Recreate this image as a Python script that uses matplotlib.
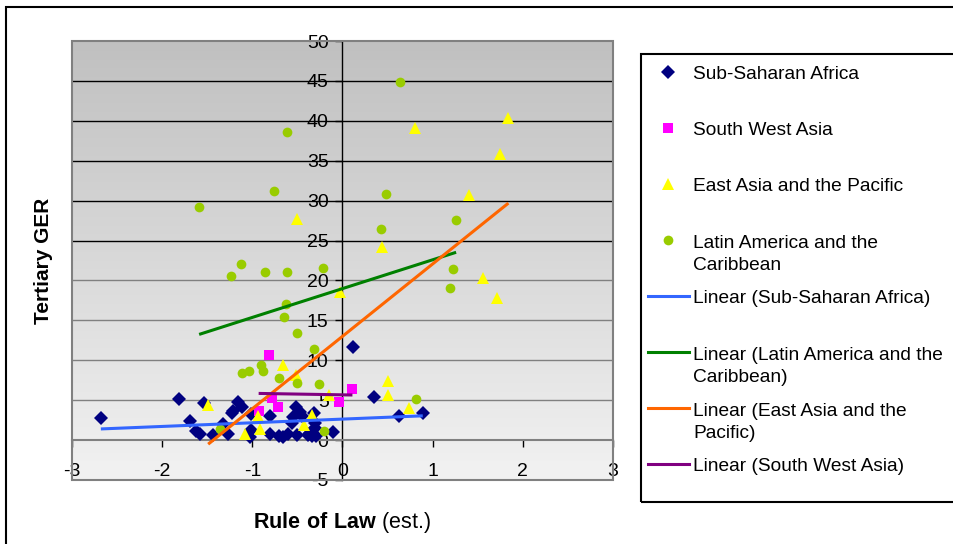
import numpy as np
import matplotlib
matplotlib.use("Agg")
import matplotlib.pyplot as plt
from matplotlib.colors import LinearSegmentedColormap
from matplotlib.patches import Rectangle
from matplotlib.lines import Line2D

plt.rcParams["font.family"] = ["Liberation Sans", "DejaVu Sans"]
plt.rcParams["axes.unicode_minus"] = False
plt.rcParams["mathtext.fontset"] = "custom"
plt.rcParams["mathtext.rm"] = "Liberation Sans"
plt.rcParams["mathtext.bf"] = "Liberation Sans:bold"

# ------------------------
# Data
# ------------------------
ssa_x = [-2.68, -1.81, -1.54, -1.69, -1.62, -1.58, -1.44, -1.32, -1.27, -1.23,
         -1.21, -1.16, -1.12, -1.03, -1.01, -1.01, -0.80, -0.80, -0.70, -0.66,
         -0.60, -0.56, -0.55, -0.52, -0.51, -0.47, -0.45, -0.38, -0.36, -0.34,
         -0.32, -0.31, -0.30, -0.29, -0.11, 0.12, 0.35, 0.63, 0.89]
ssa_y = [2.8, 5.2, 4.7, 2.4, 1.1, 0.8, 0.7, 2.0, 0.8, 3.4,
         3.6, 4.8, 4.2, 0.4, 1.3, 3.3, 3.0, 0.8, 0.5, 0.4,
         0.8, 2.1, 2.9, 4.2, 0.7, 3.5, 3.0, 0.6, 0.9, 0.5,
         3.4, 1.5, 2.1, 0.5, 1.0, 11.7, 5.4, 3.0, 3.4]

swa_x = [-0.81, -0.78, -0.71, -0.93, -0.04, 0.11]
swa_y = [10.6, 5.3, 4.2, 3.6, 4.8, 6.4]

eap_x = [-0.50, 0.80, 1.84, 1.75, 1.40, 0.44, 1.56, 1.71, -0.03, 0.50, 0.51,
         0.74, -0.66, -0.52, -1.49, -0.94, -0.91, -1.08, -0.34, -0.43, -0.15]
eap_y = [27.7, 39.1, 40.3, 35.9, 30.7, 24.2, 20.3, 17.8, 18.5, 7.4, 5.6,
         4.0, 9.4, 8.2, 4.4, 3.0, 1.4, 0.8, 3.1, 1.9, 5.6]

lac_x = [-1.59, -0.62, -0.76, 0.64, 0.48, 0.43, 1.26, 1.23, 1.19, 0.82,
         -1.24, -1.13, -0.86, -0.62, -0.22, -0.63, -0.65, -0.51, -0.32, -1.11,
         -1.04, -0.90, -0.88, -0.70, -0.51, -0.26, -1.36, -0.21]
lac_y = [29.2, 38.6, 31.2, 44.9, 30.8, 26.4, 27.6, 21.4, 19.0, 5.1,
         20.6, 22.0, 21.0, 21.0, 21.6, 17.1, 15.4, 13.4, 11.4, 8.4,
         8.6, 9.4, 8.6, 7.8, 7.2, 7.0, 1.4, 1.2]

# linear trendline coefficients (slope, intercept) as shown on the chart
trend_ssa = (0.46, 2.63)
trend_lac = (3.61, 18.98)
trend_eap = (9.07, 13.0)
trend_swa = (-0.19, 5.67)

x_ticks = [-3, -2, -1, 0, 1, 2, 3]
y_ticks = list(range(-5, 51, 5))

# ------------------------
# Figure / axes
# ------------------------
W, H = 954, 544
fig = plt.figure(figsize=(W / 100, H / 100), dpi=100)
fig.patch.set_facecolor("white")

# outer chart border
fig.patches.append(Rectangle((6 / W, -0.02), 1.05, 1 - 7 / H + 0.02,
                             transform=fig.transFigure, fill=False,
                             edgecolor="black", lw=1.5))

ax = fig.add_axes([72 / W, 1 - 480 / H, 541 / W, 439 / H])

# gradient background
grad = LinearSegmentedColormap.from_list("bg", ["#F2F2F2", "#C0C0C0"])
ax.imshow(np.linspace(0, 1, 256)[:, None], extent=(0, 1, 0, 1), origin="lower",
          transform=ax.transAxes, cmap=grad, aspect="auto", zorder=0)

ax.set_xlim(-3, 3)
ax.set_ylim(-5, 50)

# horizontal gridlines
for v in y_ticks:
    if v in (-5, 0, 50):
        continue
    ax.axhline(v, color="black" if v >= 25 else "#808080", lw=1.0, zorder=1)

# plot area border
ax.add_patch(Rectangle((0, 0), 1, 1, transform=ax.transAxes, fill=False,
                       edgecolor="#808080", lw=1.5, clip_on=False, zorder=5))

# axes crossing at zero
for s in ["top", "right"]:
    ax.spines[s].set_visible(False)
ax.spines["left"].set_position(("data", 0))
ax.spines["bottom"].set_position(("data", 0))
ax.spines["left"].set_color("black")
ax.spines["bottom"].set_color("#808080")
ax.spines["left"].set_linewidth(1.0)
ax.spines["bottom"].set_linewidth(1.5)

ax.set_xticks(x_ticks)
ax.set_yticks(y_ticks)
ax.tick_params(axis="x", direction="out", length=5, width=1, color="black",
               labelsize=14, pad=11.5)
ax.tick_params(axis="y", direction="out", length=5, width=1, color="black",
               labelsize=14, pad=5)

# ------------------------
# Scatter series
# ------------------------
ax.plot(ssa_x, ssa_y, "D", color="#000080", ms=7.2, mew=0, zorder=3)
ax.plot(swa_x, swa_y, "s", color="#FF00FF", ms=6.5, mew=0, zorder=3)
ax.plot(eap_x, eap_y, "^", color="#FFFF00", ms=8.5, mew=0, zorder=3)
ax.plot(lac_x, lac_y, "o", color="#99CC00", ms=7, mew=0, zorder=3)

# ------------------------
# Trendlines
# ------------------------
def trend(xs, coef):
    xr = np.array([min(xs), max(xs)])
    return xr, coef[0] * xr + coef[1]

for xs, coef, col in [(ssa_x, trend_ssa, "#3366FF"),
                      (lac_x, trend_lac, "#008000"),
                      (eap_x, trend_eap, "#FF6600"),
                      (swa_x, trend_swa, "#800080")]:
    tx, ty = trend(xs, coef)
    ax.plot(tx, ty, color=col, lw=2.2, solid_capstyle="butt", zorder=4)

# ------------------------
# Axis titles
# ------------------------
ax.set_xlabel(r"$\mathbf{Rule\ of\ Law}$ (est.)", fontsize=15.5)
ax.xaxis.set_label_coords(0.5, -0.068)
ax.set_ylabel("Tertiary GER", fontsize=15, fontweight="bold")
ax.yaxis.set_label_coords(-0.035, 0.5)

# ------------------------
# Legend (drawn by hand to match layout)
# ------------------------
fig.patches.append(Rectangle((641 / W, 1 - 502 / H), 0.5, (502 - 54) / H,
                             transform=fig.transFigure, fill=False,
                             edgecolor="black", lw=1.5))

entries = [
    ("marker", "D", "#000080", 7.2, "Sub-Saharan Africa"),
    ("marker", "s", "#FF00FF", 6.5, "South West Asia"),
    ("marker", "^", "#FFFF00", 8.5, "East Asia and the Pacific"),
    ("marker", "o", "#99CC00", 7, "Latin America and the\nCaribbean"),
    ("line", None, "#3366FF", None, "Linear (Sub-Saharan Africa)"),
    ("line", None, "#008000", None, "Linear (Latin America and the\nCaribbean)"),
    ("line", None, "#FF6600", None, "Linear (East Asia and the\nPacific)"),
    ("line", None, "#800080", None, "Linear (South West Asia)"),
]
row0, slot, line_h = 72, 56.0, 23.0
for i, (kind, mk, col, ms, label) in enumerate(entries):
    yy = 1 - (row0 + i * slot) / H
    if kind == "marker":
        fig.add_artist(Line2D([668 / W], [yy], marker=mk, color=col, ms=ms,
                              mew=0, transform=fig.transFigure))
    else:
        fig.add_artist(Line2D([648 / W, 689 / W], [yy, yy], color=col, lw=2.2,
                              transform=fig.transFigure))
    # baseline of a multi-line text is that of its last line
    extra = (label.count("\n")) * line_h
    fig.text(693 / W, yy - (7 + extra) / H, label, fontsize=13.8,
             va="baseline", ha="left", linespacing=1.38)

fig.savefig("out.png", dpi=100)
